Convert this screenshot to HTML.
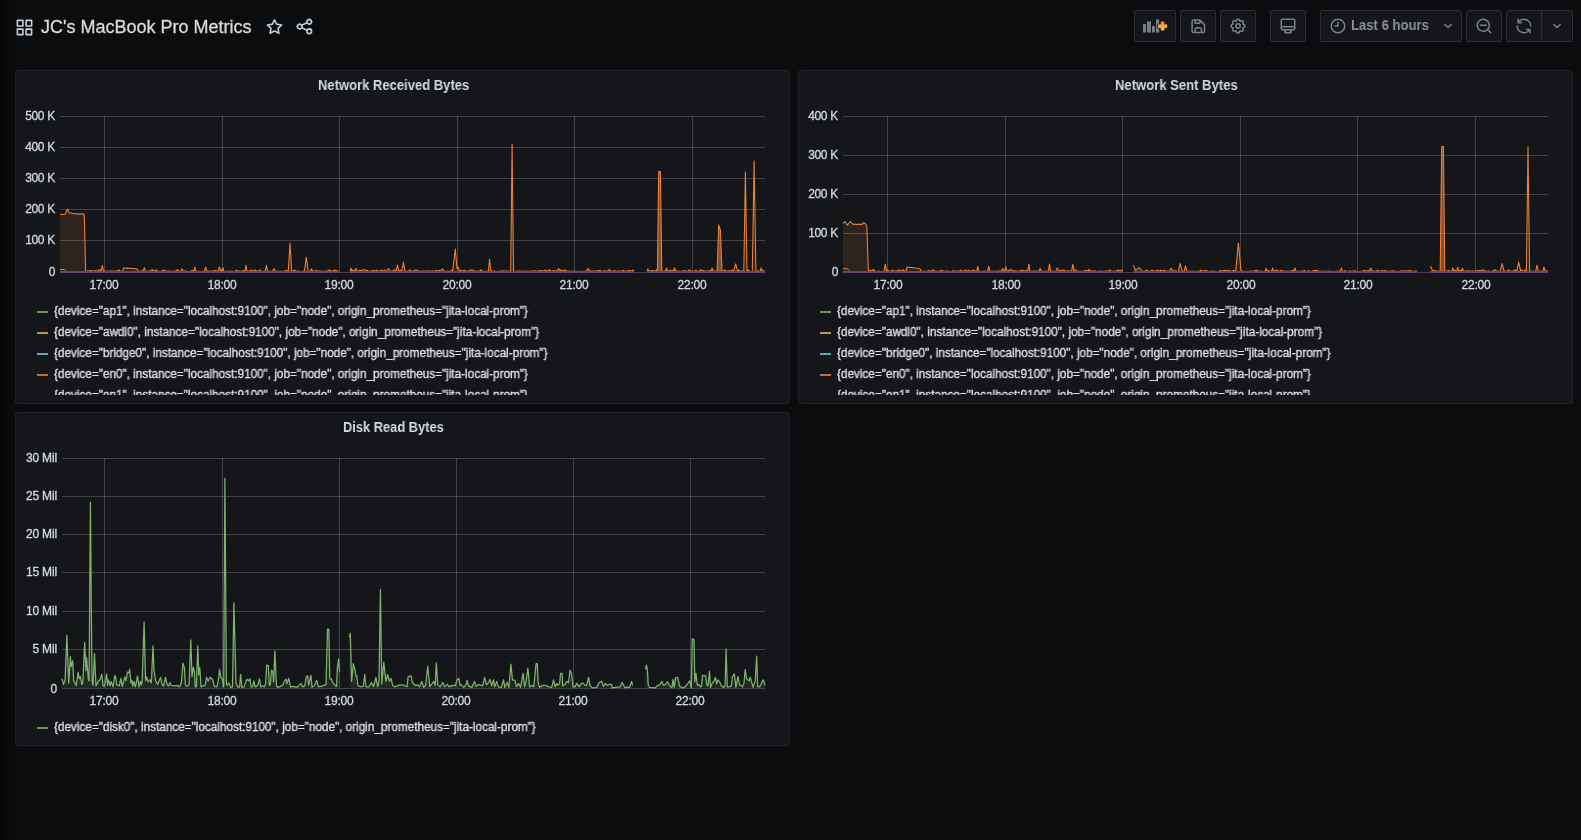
<!DOCTYPE html>
<html>
<head>
<meta charset="utf-8">
<title>JC's MacBook Pro Metrics - Grafana</title>
<style>
*{box-sizing:border-box;margin:0;padding:0}
html,body{width:1581px;height:840px;overflow:hidden;background:#0b0c0e;font-family:"Liberation Sans",sans-serif;color:#d8d9da}
body{position:relative}
.edge{position:absolute;left:0;top:0;width:18px;height:840px;background:linear-gradient(90deg,#050606 0,#090a0b 5px,#0b0c0e 14px)}
.abs{position:absolute}
.title,.ptitle,.yl,.xl,.lg span,.tbtxt{will-change:transform}
.title{-webkit-text-stroke:0.3px #d8d9da;left:41px;top:15px;height:24px;line-height:24px;font-size:18px;color:#d8d9da;white-space:nowrap}
.btn{position:absolute;top:10px;height:32px;background:#141619;border:1px solid #2c2e33;border-radius:2px}
.panel{position:absolute;width:775px;height:334px;background:#141619;border:1px solid #202226;border-radius:3px}
.ptitle{position:absolute;height:16px;line-height:16px;font-size:14px;font-weight:bold;color:#d5dae0;white-space:nowrap;transform-origin:0 50%}
.yl,.xl{-webkit-text-stroke:0.3px #d3d9e0;color:#d3d9e0 !important}
.lg span{-webkit-text-stroke:0.3px #e0e1e3;color:#e0e1e3}
.yl{position:absolute;font-size:12px;line-height:14px;height:14px;width:50px;color:#d8d9da;text-align:right;white-space:nowrap;letter-spacing:-0.3px}
.xl{position:absolute;font-size:12px;line-height:14px;height:14px;width:60px;margin-left:-30.5px;color:#d8d9da;text-align:center;white-space:nowrap;letter-spacing:-0.2px}
.legend{position:absolute;overflow:hidden}
.lg{position:absolute;left:0;font-size:12px;line-height:14px;height:14px;color:#d8d9da;white-space:nowrap}
.lg i{position:absolute;left:0;top:7px;width:11px;height:2px;opacity:0.8}
.lg span{position:absolute;left:17.4px;top:0;transform-origin:0 50%;transform:scaleX(0.9785)}
svg{position:absolute}
.tbtxt{position:absolute;left:1350.9px;top:16.4px;height:18px;line-height:18px;font-size:14px;font-weight:bold;color:#8e9298;white-space:nowrap;transform-origin:0 50%;transform:scaleX(0.935)}
</style>
</head>
<body>
<div class="edge"></div>

<!-- NAVBAR -->
<svg style="left:14.5px;top:17.5px" width="19" height="19" viewBox="0 0 24 24" fill="#c7d0d9"><path d="M10,13H3a1,1,0,0,0-1,1v7a1,1,0,0,0,1,1h7a1,1,0,0,0,1-1V14A1,1,0,0,0,10,13ZM9,20H4V15H9ZM21,2H14a1,1,0,0,0-1,1v7a1,1,0,0,0,1,1h7a1,1,0,0,0,1-1V3A1,1,0,0,0,21,2ZM20,9H15V4h5Zm1,4H14a1,1,0,0,0-1,1v7a1,1,0,0,0,1,1h7a1,1,0,0,0,1-1V14A1,1,0,0,0,21,13Zm-1,7H15V15h5ZM10,2H3A1,1,0,0,0,2,3v7a1,1,0,0,0,1,1h7a1,1,0,0,0,1-1V3A1,1,0,0,0,10,2ZM9,9H4V4H9Z"/></svg>
<div class="abs title">JC's MacBook Pro Metrics</div>
<svg style="left:264.5px;top:16.6px" width="19" height="19" viewBox="0 0 24 24" fill="#c7d0d9"><path d="M22,9.67A1,1,0,0,0,21.14,9l-5.69-.83L12.900,3a1,1,0,0,0-1.800,0L8.550,8.160,2.860,9a1,1,0,0,0-.81.680,1,1,0,0,0,.25,1l4.130,4-1,5.680A1,1,0,0,0,6.900,21.440L12,18.770l5.100,2.670a.93.930,0,0,0,.46.120,1,1,0,0,0,.59-.19,1,1,0,0,0,.4-1l-1-5.680,4.130-4A1,1,0,0,0,22,9.670Zm-6.150,4a1,1,0,0,0-.29.880l.72,4.200-3.760-2a1.060,1.060,0,0,0-.94,0l-3.760,2,.72-4.200a1,1,0,0,0-.29-.88l-3-3,4.210-.61a1,1,0,0,0,.76-.55L12,5.700l1.880,3.820a1,1,0,0,0,.76.550l4.210.610Z"/></svg>
<svg style="left:294.5px;top:16.5px" width="19" height="19" viewBox="0 0 24 24" fill="#c7d0d9"><path d="M18,14a4,4,0,0,0-3.080,1.480l-5.100-2.350a3.640,3.640,0,0,0,0-2.260l5.100-2.350A4,4,0,1,0,14,6a4.170,4.170,0,0,0,.07.710L8.790,9.140a4,4,0,1,0,0,5.720l5.280,2.430A4.170,4.170,0,0,0,14,18a4,4,0,1,0,4-4ZM18,4a2,2,0,1,1-2,2A2,2,0,0,1,18,4ZM6,14a2,2,0,1,1,2-2A2,2,0,0,1,6,14Zm12,6a2,2,0,1,1,2-2A2,2,0,0,1,18,20Z"/></svg>

<!-- toolbar buttons -->
<div class="btn" style="left:1134px;width:42px"></div>
<div class="btn" style="left:1180px;width:36px"></div>
<div class="btn" style="left:1220px;width:36px"></div>
<div class="btn" style="left:1270px;width:36px"></div>
<div class="btn" style="left:1320px;width:142px"></div>
<div class="btn" style="left:1466px;width:36px"></div>
<div class="btn" style="left:1506px;width:67px"></div>
<div class="abs" style="left:1541px;top:11px;width:1px;height:30px;background:#2c2e33"></div>

<!-- add panel icon -->
<svg style="left:1140px;top:16px" width="30" height="20" viewBox="0 0 30 20">
<defs><linearGradient id="pg" gradientUnits="userSpaceOnUse" x1="0" y1="5.6" x2="0" y2="14.5"><stop offset="0" stop-color="#f2843a"/><stop offset="1" stop-color="#fcc42c"/></linearGradient></defs>
<g fill="#7b8087"><rect x="3" y="8.1" width="3" height="8.4"/><rect x="7" y="5.4" width="3.9" height="11.1"/><rect x="12" y="10.1" width="2.9" height="6.4"/><rect x="16" y="3.4" width="3.2" height="13.1"/></g>
<g fill="#141619" stroke="#141619" stroke-width="1.8"><rect x="18" y="8.3" width="9.2" height="3.6" rx="0.9"/><rect x="20.8" y="5.6" width="3.6" height="8.9" rx="0.9"/></g>
<g fill="url(#pg)"><rect x="18" y="8.3" width="9.2" height="3.6" rx="0.9"/><rect x="20.8" y="5.6" width="3.6" height="8.9" rx="0.9"/></g>
</svg>
<!-- save -->
<svg style="left:1188.7px;top:16.6px" width="18.6" height="18.6" viewBox="0 0 24 24" fill="#7b8087"><path d="M20.710,9.290l-6-6a1,1,0,0,0-.32-.21A1.090,1.090,0,0,0,14,3H6A3,3,0,0,0,3,6V18a3,3,0,0,0,3,3H18a3,3,0,0,0,3-3V10A1,1,0,0,0,20.710,9.290ZM9,5h4V7H9Zm6,14H9V16a1,1,0,0,1,1-1h4a1,1,0,0,1,1,1Zm4-1a1,1,0,0,1-1,1H17V16a3,3,0,0,0-3-3H10a3,3,0,0,0-3,3v3H6a1,1,0,0,1-1-1V6A1,1,0,0,1,6,5H7V8A1,1,0,0,0,8,9h6a1,1,0,0,0,1-1V6.410l4,4Z"/></svg>
<!-- cog -->
<svg style="left:1229px;top:17.2px" width="18" height="18" viewBox="0 0 24 24" fill="#7b8087"><path d="M21.320,9.550l-1.890-.63.890-1.780A1,1,0,0,0,20.130,6L18,3.870a1,1,0,0,0-1.150-.19l-1.780.89-.63-1.890A1,1,0,0,0,13.500,2h-3a1,1,0,0,0-.95.680L8.920,4.570,7.140,3.680A1,1,0,0,0,6,3.870L3.870,6a1,1,0,0,0-.19,1.150l.89,1.780-1.890.63A1,1,0,0,0,2,10.500v3a1,1,0,0,0,.68.950l1.890.63-.89,1.780A1,1,0,0,0,3.870,18L6,20.130a1,1,0,0,0,1.150.19l1.780-.89.630,1.890a1,1,0,0,0,.95.680h3a1,1,0,0,0,.95-.68l.63-1.890,1.780.89A1,1,0,0,0,18,20.130L20.130,18a1,1,0,0,0,.19-1.150l-.89-1.780,1.890-.63A1,1,0,0,0,22,13.500v-3A1,1,0,0,0,21.320,9.550ZM20,12.780l-1.200.4A2,2,0,0,0,17.640,16l.57,1.140-1.100,1.100L16,17.640a2,2,0,0,0-2.790,1.160l-.4,1.200H11.220l-.4-1.200A2,2,0,0,0,8,17.640l-1.140.57-1.100-1.100L6.360,16A2,2,0,0,0,5.200,13.180L4,12.780V11.220l1.200-.4A2,2,0,0,0,6.360,8L5.790,6.890l1.100-1.100L8,6.360A2,2,0,0,0,10.820,5.200l.4-1.200h1.560l.4,1.200A2,2,0,0,0,16,6.360l1.140-.57,1.100,1.100L17.640,8a2,2,0,0,0,1.160,2.790l1.200.4ZM12,8a4,4,0,1,0,4,4A4,4,0,0,0,12,8Zm0,6a2,2,0,1,1,2-2A2,2,0,0,1,12,14Z"/></svg>
<!-- monitor -->
<svg style="left:1279px;top:17px" width="18" height="18" viewBox="0 0 24 24" fill="#7b8087"><path d="M19,2H5A3,3,0,0,0,2,5V15a3,3,0,0,0,3,3H7.640l-.58,1a2,2,0,0,0,0,2,2,2,0,0,0,1.750,1h6.460A2,2,0,0,0,17,21a2,2,0,0,0,0-2l-.59-1H19a3,3,0,0,0,3-3V5A3,3,0,0,0,19,2ZM8.770,20,10,18H14l1.200,2ZM20,15a1,1,0,0,1-1,1H5a1,1,0,0,1-1-1V14H20Zm0-3H4V5A1,1,0,0,1,5,4H19a1,1,0,0,1,1,1Z"/></svg>
<!-- clock -->
<svg style="left:1329px;top:17px" width="18" height="18" viewBox="0 0 24 24" fill="#7b8087"><path d="M12,2A10,10,0,1,0,22,12,10.011,10.011,0,0,0,12,2Zm0,18a8,8,0,1,1,8-8A8.009,8.009,0,0,1,12,20ZM12,6a1,1,0,0,0-1,1v4H8a1,1,0,0,0,0,2h4a1,1,0,0,0,1-1V7A1,1,0,0,0,12,6Z"/></svg>
<div class="tbtxt">Last 6 hours</div>
<svg style="left:1439px;top:17px" width="18" height="18" viewBox="0 0 24 24" fill="#7b8087"><path d="M17,9.170a1,1,0,0,0-1.410,0L12,12.710,8.460,9.170a1,1,0,0,0-1.410,0,1,1,0,0,0,0,1.420l4.240,4.240a1,1,0,0,0,1.420,0L17,10.590A1,1,0,0,0,17,9.170Z"/></svg>
<!-- zoom out -->
<svg style="left:1475px;top:17px" width="18" height="18" viewBox="0 0 24 24" fill="#7b8087"><path d="M21.710,20.290,18,16.610A9,9,0,1,0,16.610,18l3.680,3.680a1,1,0,0,0,1.420,0A1,1,0,0,0,21.710,20.290ZM11,18a7,7,0,1,1,7-7A7,7,0,0,1,11,18Zm4-8H7a1,1,0,0,0,0,2h8a1,1,0,0,0,0-2Z"/></svg>
<!-- sync -->
<svg style="left:1515px;top:17px" width="18" height="18" viewBox="0 0 24 24" fill="#7b8087"><path d="M19.910,15.510H15.380a1,1,0,0,0,0,2h2.400A8,8,0,0,1,4,12a1,1,0,0,0-2,0,10,10,0,0,0,16.880,7.230V21a1,1,0,0,0,2,0V16.500A1,1,0,0,0,19.910,15.510ZM12,2A10,10,0,0,0,5.120,4.770V3a1,1,0,0,0-2,0V7.500a1,1,0,0,0,1,1h4.500a1,1,0,0,0,0-2H6.220A8,8,0,0,1,20,12a1,1,0,0,0,2,0A10,10,0,0,0,12,2Z"/></svg>
<svg style="left:1548px;top:17px" width="18" height="18" viewBox="0 0 24 24" fill="#7b8087"><path d="M17,9.170a1,1,0,0,0-1.410,0L12,12.710,8.460,9.170a1,1,0,0,0-1.410,0,1,1,0,0,0,0,1.420l4.240,4.240a1,1,0,0,0,1.420,0L17,10.590A1,1,0,0,0,17,9.170Z"/></svg>

<!-- PANELS -->
<div class="panel" style="left:15px;top:70px"></div>
<div class="panel" style="left:798px;top:70px"></div>
<div class="panel" style="left:15px;top:412px"></div>

<div class="ptitle" style="left:317.7px;top:77px;transform:scaleX(0.93)">Network Received Bytes</div>
<div class="ptitle" style="left:1115.2px;top:77px;transform:scaleX(0.933)">Network Sent Bytes</div>
<div class="ptitle" style="left:343.3px;top:419px;transform:scaleX(0.918)">Disk Read Bytes</div>

<!-- chart svg overlay -->
<svg style="left:0;top:0" width="1581" height="840" viewBox="0 0 1581 840">
<g id="c1"><g stroke="#c8c8c8" stroke-opacity="0.25" stroke-width="1" shape-rendering="crispEdges"><line x1="60" y1="116.5" x2="765" y2="116.5"/><line x1="60" y1="147.5" x2="765" y2="147.5"/><line x1="60" y1="178.5" x2="765" y2="178.5"/><line x1="60" y1="209.5" x2="765" y2="209.5"/><line x1="60" y1="240.5" x2="765" y2="240.5"/><line x1="60" y1="272.5" x2="765" y2="272.5"/><line x1="104.5" y1="116" x2="104.5" y2="273"/><line x1="222.5" y1="116" x2="222.5" y2="273"/><line x1="339.5" y1="116" x2="339.5" y2="273"/><line x1="457.5" y1="116" x2="457.5" y2="273"/><line x1="574.5" y1="116" x2="574.5" y2="273"/><line x1="692.5" y1="116" x2="692.5" y2="273"/></g><path d="M60 269.5 L64.5 269.5 L66 270.8" fill="none" stroke="#EF843C" stroke-width="1"/><path d="M60 272 L60 214.3 L63 214.4 L65 214.2 L67.4 209.2 L69.3 212.9 L71 213 L72.5 213.6 L74 213.4 L75.5 213.9 L77 213.6 L78.5 214 L80 213.7 L81.5 214.2 L83 213.6 L83.8 214.2 L84.4 218 L85.6 271.3 L91.7 270.5 L92 271.2 L94 271.2 L95.7 270.5 L97.4 271.4 L98.8 270 L100.6 269.7 L101 271.4 L102.3 265.5 L103.6 271.4 L103.9 270.5 L105.1 271 L106.3 271.3 L108.2 271.2 L109.8 271.3 L111.2 271.1 L113.1 271.3 L114.4 271.3 L116.3 271.1 L117.8 271.1 L118.9 269.9 L120.5 271.3 L121.7 271.2 L122.6 271.3 L123.6 267.8 L126 268.3 L128 268 L131 268.5 L134 268.4 L137 269 L138.5 271.3 L138.6 271.4 L140.7 271 L142.5 270.9 L143 271.4 L144.3 267.8 L145.6 271.4 L146.6 271.3 L148.3 271.3 L149.6 271.2 L150.9 270.1 L153 269.8 L154.9 271.3 L156.2 269.8 L157.5 271.3 L159.4 271.3 L160.7 271.4 L162 271.1 L163.8 269.8 L165.1 270.9 L166.6 271.1 L168.1 271.4 L169.6 271.1 L171.3 271.2 L172.6 271.4 L174.6 271.1 L175.7 271.3 L177.5 269.7 L178.7 271.2 L180.7 271.2 L180.8 271.4 L182 268.8 L183.2 271.4 L184.4 271.1 L185.9 271.1 L187.5 271.3 L189.2 271.4 L191 271.1 L192.8 270.2 L193.7 271.4 L194.8 267.1 L195.9 271.4 L197.4 271.3 L199.1 271.2 L201.1 271.4 L202.6 271.3 L203.8 271.2 L204.4 271.4 L205.7 267 L207 271.4 L207.1 270.7 L209 271.1 L210.5 271.3 L211.8 271.1 L213.7 271.1 L215.1 270.6 L216.5 270.7 L218.1 271.4 L219.4 267 L220.7 271.4 L221.3 269.9 L221.7 271.4 L222.8 267.5 L223.9 271.4 L225.1 271.4 L227.1 271.2 L228.2 271.3 L229.9 271.2 L232 271.3 L233.6 271.4 L235.1 271.3 L236.5 270.2 L238.1 271.2 L239.6 271.1 L240.8 271.2 L242.1 271.2 L244.1 270.4 L244.9 271.4 L246 265.3 L247.1 271.4 L247.6 271.3 L249.4 271.2 L251.2 269.9 L253.3 271.2 L255.2 269.9 L257.1 271.3 L258.7 271.2 L260.2 270 L261.4 271.3 L262.9 271.4 L264.1 271.2 L265.1 271.4 L266.4 265.3 L267.7 271.4 L269 271.3 L270.8 271.2 L272.4 271.4 L274 268.8 L275.6 271.4 L277.2 271.3 L278.8 271.2 L279.9 271.2 L281.4 271.2 L283 271.4 L284.7 271.1 L286.7 270.6 L287.9 271.2 L288.3 271.4 L290 243.1 L291.7 271.4 L292.5 271.4 L293.8 270.2 L295.2 270.3 L296.4 271.4 L298 271.1 L299.7 271.3 L301.2 271.4 L302.5 271.2 L304.1 271.2 L304.4 271.4 L306.3 257.3 L308.2 271.4 L309.4 271.3 L310.4 271.4 L311.5 268.8 L312.6 271.4 L312.8 271.3 L314 271.3 L315.9 270.7 L317.7 271.1 L319.4 271.1 L320.7 271.2 L322.3 271.3 L323.5 271.3 L325.1 271.2 L326.4 271.1 L328.3 271.1 L329.5 269.8 L331.1 271.3 L332.6 271.3 L334.3 270.2 L336.3 270.6 L338.1 271.3 L339.4 271.4 L340 271.4 L340 272Z" fill="#EF843C" fill-opacity="0.125" stroke="none"/><path d="M60 214.3 L63 214.4 L65 214.2 L67.4 209.2 L69.3 212.9 L71 213 L72.5 213.6 L74 213.4 L75.5 213.9 L77 213.6 L78.5 214 L80 213.7 L81.5 214.2 L83 213.6 L83.8 214.2 L84.4 218 L85.6 271.3 L91.7 270.5 L92 271.2 L94 271.2 L95.7 270.5 L97.4 271.4 L98.8 270 L100.6 269.7 L101 271.4 L102.3 265.5 L103.6 271.4 L103.9 270.5 L105.1 271 L106.3 271.3 L108.2 271.2 L109.8 271.3 L111.2 271.1 L113.1 271.3 L114.4 271.3 L116.3 271.1 L117.8 271.1 L118.9 269.9 L120.5 271.3 L121.7 271.2 L122.6 271.3 L123.6 267.8 L126 268.3 L128 268 L131 268.5 L134 268.4 L137 269 L138.5 271.3 L138.6 271.4 L140.7 271 L142.5 270.9 L143 271.4 L144.3 267.8 L145.6 271.4 L146.6 271.3 L148.3 271.3 L149.6 271.2 L150.9 270.1 L153 269.8 L154.9 271.3 L156.2 269.8 L157.5 271.3 L159.4 271.3 L160.7 271.4 L162 271.1 L163.8 269.8 L165.1 270.9 L166.6 271.1 L168.1 271.4 L169.6 271.1 L171.3 271.2 L172.6 271.4 L174.6 271.1 L175.7 271.3 L177.5 269.7 L178.7 271.2 L180.7 271.2 L180.8 271.4 L182 268.8 L183.2 271.4 L184.4 271.1 L185.9 271.1 L187.5 271.3 L189.2 271.4 L191 271.1 L192.8 270.2 L193.7 271.4 L194.8 267.1 L195.9 271.4 L197.4 271.3 L199.1 271.2 L201.1 271.4 L202.6 271.3 L203.8 271.2 L204.4 271.4 L205.7 267 L207 271.4 L207.1 270.7 L209 271.1 L210.5 271.3 L211.8 271.1 L213.7 271.1 L215.1 270.6 L216.5 270.7 L218.1 271.4 L219.4 267 L220.7 271.4 L221.3 269.9 L221.7 271.4 L222.8 267.5 L223.9 271.4 L225.1 271.4 L227.1 271.2 L228.2 271.3 L229.9 271.2 L232 271.3 L233.6 271.4 L235.1 271.3 L236.5 270.2 L238.1 271.2 L239.6 271.1 L240.8 271.2 L242.1 271.2 L244.1 270.4 L244.9 271.4 L246 265.3 L247.1 271.4 L247.6 271.3 L249.4 271.2 L251.2 269.9 L253.3 271.2 L255.2 269.9 L257.1 271.3 L258.7 271.2 L260.2 270 L261.4 271.3 L262.9 271.4 L264.1 271.2 L265.1 271.4 L266.4 265.3 L267.7 271.4 L269 271.3 L270.8 271.2 L272.4 271.4 L274 268.8 L275.6 271.4 L277.2 271.3 L278.8 271.2 L279.9 271.2 L281.4 271.2 L283 271.4 L284.7 271.1 L286.7 270.6 L287.9 271.2 L288.3 271.4 L290 243.1 L291.7 271.4 L292.5 271.4 L293.8 270.2 L295.2 270.3 L296.4 271.4 L298 271.1 L299.7 271.3 L301.2 271.4 L302.5 271.2 L304.1 271.2 L304.4 271.4 L306.3 257.3 L308.2 271.4 L309.4 271.3 L310.4 271.4 L311.5 268.8 L312.6 271.4 L312.8 271.3 L314 271.3 L315.9 270.7 L317.7 271.1 L319.4 271.1 L320.7 271.2 L322.3 271.3 L323.5 271.3 L325.1 271.2 L326.4 271.1 L328.3 271.1 L329.5 269.8 L331.1 271.3 L332.6 271.3 L334.3 270.2 L336.3 270.6 L338.1 271.3 L339.4 271.4 L340 271.4" fill="none" stroke="#EF843C" stroke-width="1.05" stroke-linejoin="round"/><path d="M350 272 L350 271.2 L350.2 271.4 L351 268 L351.8 271.4 L353.2 270 L354.8 271.4 L356.1 268.4 L357.4 271.4 L358.1 271.4 L360 270.2 L361.4 271.1 L362.5 269.8 L364.1 269.7 L366.2 270.7 L367.4 270.3 L368.7 271.4 L370 271.3 L371.5 271.3 L373 270.2 L375 271.2 L376.5 270.2 L378.3 271 L379.7 271.2 L381.3 270 L382.9 271.3 L384.4 270.1 L385.6 271.3 L386.2 271.4 L388.4 268.5 L390.6 271.4 L392 271.3 L394 269.8 L395.5 270.1 L396 271.4 L397.4 265.1 L398.8 271.4 L399.4 271 L400.5 270.3 L401.8 271.4 L403.4 262.3 L405 271.4 L405.6 271.3 L407.2 271.2 L408.6 271.1 L409.9 269.9 L411.3 271.2 L413.1 271.3 L414.5 270.2 L416.3 269.9 L417.8 270.7 L419.8 271.2 L421.8 271.2 L423.4 271.1 L425.2 271.3 L426.7 271.2 L427.8 271.1 L429.7 271.1 L431.4 271.3 L432.6 270.9 L434.6 271.2 L436.3 270.5 L438.1 271 L439.6 270.2 L440.3 271.4 L442.5 268.8 L444.7 271.4 L446.3 271.3 L448 271 L449.5 271.4 L450.9 271.1 L452.5 269.8 L452.6 271.3 L455.3 249 L457 268.5 L458.1 267 L459.2 271.3 L460.8 270.3 L462.5 271.2 L464.3 270.2 L465.7 271.3 L467.1 271 L468.8 271.3 L470.7 269.8 L472.4 269.9 L474.3 271.2 L476.1 271.2 L478 271.2 L479.3 271.3 L480.8 270 L482.1 271 L484.1 271.4 L486.1 271.2 L487.5 271.3 L488.4 271.4 L489.6 259.3 L490.8 271.4 L491.5 271.1 L492.8 271.3 L494.1 270.9 L496.1 271.4 L497.8 271.3 L499.5 271.2 L501.1 271.3 L502.8 270.7 L504.4 271.3 L506.4 271.1 L508.2 271.2 L509.7 271.2 L510.7 271.4 L512.1 143.9 L513.5 271.4 L513.9 271 L515.2 271.2 L517.2 271.2 L519.2 271 L521.2 271.3 L523.1 271.2 L524.5 271.3 L526.2 271.1 L528.1 271.3 L529.5 271.2 L531.2 271 L532.8 271.2 L534.7 270.8 L536.6 271.3 L537.9 271.2 L539.4 270.7 L541.1 270.5 L543.1 271.3 L544.7 270.1 L546.4 270.5 L548.1 271.3 L549.5 269.7 L550.9 271.3 L552.2 271.1 L553.6 270.8 L555.7 270.8 L556.9 271.4 L558.6 268.4 L560.3 271.4 L560.4 270 L562.4 271.3 L564 270 L565.3 270.3 L567.1 271.3 L569.1 271.1 L570.6 271.3 L572.4 271.3 L574 271.2 L575.8 271.2 L577.2 271.4 L579.2 271.3 L581.3 271.4 L583.2 271.3 L584.6 271.4 L585.7 270.9 L586.3 271.4 L588 268.4 L589.7 271.4 L590.5 271 L592.4 271.1 L594.1 271.1 L596.1 271.2 L597.9 270.5 L599.9 270.4 L601.2 271.1 L603 271.4 L604.6 270.7 L605.8 271.2 L607.4 271.1 L607.9 271.4 L609.5 269.3 L611.1 271.4 L612.4 271.2 L614.5 270.7 L616.4 271.2 L618.3 271.1 L620 270.9 L621.2 271.3 L623.3 270.4 L624.5 271.2 L625.8 271.1 L627.9 270.7 L629.6 270.4 L631.4 271.2 L633.2 270.1 L634 271.4 L634 272Z" fill="#EF843C" fill-opacity="0.125" stroke="none"/><path d="M350 271.2 L350.2 271.4 L351 268 L351.8 271.4 L353.2 270 L354.8 271.4 L356.1 268.4 L357.4 271.4 L358.1 271.4 L360 270.2 L361.4 271.1 L362.5 269.8 L364.1 269.7 L366.2 270.7 L367.4 270.3 L368.7 271.4 L370 271.3 L371.5 271.3 L373 270.2 L375 271.2 L376.5 270.2 L378.3 271 L379.7 271.2 L381.3 270 L382.9 271.3 L384.4 270.1 L385.6 271.3 L386.2 271.4 L388.4 268.5 L390.6 271.4 L392 271.3 L394 269.8 L395.5 270.1 L396 271.4 L397.4 265.1 L398.8 271.4 L399.4 271 L400.5 270.3 L401.8 271.4 L403.4 262.3 L405 271.4 L405.6 271.3 L407.2 271.2 L408.6 271.1 L409.9 269.9 L411.3 271.2 L413.1 271.3 L414.5 270.2 L416.3 269.9 L417.8 270.7 L419.8 271.2 L421.8 271.2 L423.4 271.1 L425.2 271.3 L426.7 271.2 L427.8 271.1 L429.7 271.1 L431.4 271.3 L432.6 270.9 L434.6 271.2 L436.3 270.5 L438.1 271 L439.6 270.2 L440.3 271.4 L442.5 268.8 L444.7 271.4 L446.3 271.3 L448 271 L449.5 271.4 L450.9 271.1 L452.5 269.8 L452.6 271.3 L455.3 249 L457 268.5 L458.1 267 L459.2 271.3 L460.8 270.3 L462.5 271.2 L464.3 270.2 L465.7 271.3 L467.1 271 L468.8 271.3 L470.7 269.8 L472.4 269.9 L474.3 271.2 L476.1 271.2 L478 271.2 L479.3 271.3 L480.8 270 L482.1 271 L484.1 271.4 L486.1 271.2 L487.5 271.3 L488.4 271.4 L489.6 259.3 L490.8 271.4 L491.5 271.1 L492.8 271.3 L494.1 270.9 L496.1 271.4 L497.8 271.3 L499.5 271.2 L501.1 271.3 L502.8 270.7 L504.4 271.3 L506.4 271.1 L508.2 271.2 L509.7 271.2 L510.7 271.4 L512.1 143.9 L513.5 271.4 L513.9 271 L515.2 271.2 L517.2 271.2 L519.2 271 L521.2 271.3 L523.1 271.2 L524.5 271.3 L526.2 271.1 L528.1 271.3 L529.5 271.2 L531.2 271 L532.8 271.2 L534.7 270.8 L536.6 271.3 L537.9 271.2 L539.4 270.7 L541.1 270.5 L543.1 271.3 L544.7 270.1 L546.4 270.5 L548.1 271.3 L549.5 269.7 L550.9 271.3 L552.2 271.1 L553.6 270.8 L555.7 270.8 L556.9 271.4 L558.6 268.4 L560.3 271.4 L560.4 270 L562.4 271.3 L564 270 L565.3 270.3 L567.1 271.3 L569.1 271.1 L570.6 271.3 L572.4 271.3 L574 271.2 L575.8 271.2 L577.2 271.4 L579.2 271.3 L581.3 271.4 L583.2 271.3 L584.6 271.4 L585.7 270.9 L586.3 271.4 L588 268.4 L589.7 271.4 L590.5 271 L592.4 271.1 L594.1 271.1 L596.1 271.2 L597.9 270.5 L599.9 270.4 L601.2 271.1 L603 271.4 L604.6 270.7 L605.8 271.2 L607.4 271.1 L607.9 271.4 L609.5 269.3 L611.1 271.4 L612.4 271.2 L614.5 270.7 L616.4 271.2 L618.3 271.1 L620 270.9 L621.2 271.3 L623.3 270.4 L624.5 271.2 L625.8 271.1 L627.9 270.7 L629.6 270.4 L631.4 271.2 L633.2 270.1 L634 271.4" fill="none" stroke="#EF843C" stroke-width="1.05" stroke-linejoin="round"/><path d="M647 272 L647 271.4 L647.9 268.9 L648.8 271.4 L650.1 271 L651.9 270.5 L653.3 270.7 L655.2 271.4 L656.6 269.9 L657.4 271.3 L658.7 171.6 L660.4 171.4 L661.8 271.3 L663.5 271.3 L665 270.9 L665.5 271.4 L666.6 268 L667.7 271.4 L668.3 271.2 L670.1 270.2 L671.7 271.1 L673.3 270.6 L673.5 271.4 L674.6 268 L675.7 271.4 L676.6 271 L677.9 271.3 L679.6 271.3 L681.4 271.4 L682.7 271.1 L684.4 270.7 L686.4 271.2 L687.7 271.3 L689.5 269.7 L691.2 271.3 L692.9 271.2 L694.4 271.3 L695.8 270.2 L697 271.3 L698.8 271.2 L699.9 270.8 L701.1 269.7 L702.4 270.9 L704.1 270.6 L705.5 271.4 L707 271.1 L708.6 271.2 L710 270.5 L711 271.4 L712.1 268 L713.2 271.4 L713.8 271.3 L715.4 271 L716.8 270.8 L717.1 271.3 L718.7 225 L720.4 230 L722 271.3 L723.4 270.9 L724.9 269.9 L726.1 271.3 L727.5 271.3 L728.8 270.6 L730.7 271.4 L732.4 270 L733.7 271.4 L735.7 263.9 L737.7 271.4 L738.5 270 L739.8 271.2 L741.8 271.1 L743.4 271.2 L743.8 271.4 L745.4 172.1 L747 271.4 L748.2 269.8 L749.6 271.3 L750.7 271.4 L752.3 271.4 L754.1 160.9 L755.9 271.4 L756.4 271.3 L758.2 270.9 L760.1 271.4 L761.2 268 L762.3 271.4 L763.3 270.8 L765 271.4 L765 272Z" fill="#EF843C" fill-opacity="0.125" stroke="none"/><path d="M647 271.4 L647.9 268.9 L648.8 271.4 L650.1 271 L651.9 270.5 L653.3 270.7 L655.2 271.4 L656.6 269.9 L657.4 271.3 L658.7 171.6 L660.4 171.4 L661.8 271.3 L663.5 271.3 L665 270.9 L665.5 271.4 L666.6 268 L667.7 271.4 L668.3 271.2 L670.1 270.2 L671.7 271.1 L673.3 270.6 L673.5 271.4 L674.6 268 L675.7 271.4 L676.6 271 L677.9 271.3 L679.6 271.3 L681.4 271.4 L682.7 271.1 L684.4 270.7 L686.4 271.2 L687.7 271.3 L689.5 269.7 L691.2 271.3 L692.9 271.2 L694.4 271.3 L695.8 270.2 L697 271.3 L698.8 271.2 L699.9 270.8 L701.1 269.7 L702.4 270.9 L704.1 270.6 L705.5 271.4 L707 271.1 L708.6 271.2 L710 270.5 L711 271.4 L712.1 268 L713.2 271.4 L713.8 271.3 L715.4 271 L716.8 270.8 L717.1 271.3 L718.7 225 L720.4 230 L722 271.3 L723.4 270.9 L724.9 269.9 L726.1 271.3 L727.5 271.3 L728.8 270.6 L730.7 271.4 L732.4 270 L733.7 271.4 L735.7 263.9 L737.7 271.4 L738.5 270 L739.8 271.2 L741.8 271.1 L743.4 271.2 L743.8 271.4 L745.4 172.1 L747 271.4 L748.2 269.8 L749.6 271.3 L750.7 271.4 L752.3 271.4 L754.1 160.9 L755.9 271.4 L756.4 271.3 L758.2 270.9 L760.1 271.4 L761.2 268 L762.3 271.4 L763.3 270.8 L765 271.4" fill="none" stroke="#EF843C" stroke-width="1.05" stroke-linejoin="round"/><path d="M657.4 271 L658.7 171.6 L660.4 171.4 L661.8 271Z M717.1 271 L718.7 225 L720.4 230 L722 271Z" fill="#EF843C" fill-opacity="0.45"/><rect x="60" y="271" width="280" height="2" fill="#67407f"/><rect x="350" y="271" width="284" height="2" fill="#67407f"/><rect x="647" y="271" width="118" height="2" fill="#67407f"/></g>
<g id="c2"><g stroke="#c8c8c8" stroke-opacity="0.25" stroke-width="1" shape-rendering="crispEdges"><line x1="843" y1="116.5" x2="1548" y2="116.5"/><line x1="843" y1="155.5" x2="1548" y2="155.5"/><line x1="843" y1="194.5" x2="1548" y2="194.5"/><line x1="843" y1="233.5" x2="1548" y2="233.5"/><line x1="843" y1="272.5" x2="1548" y2="272.5"/><line x1="887.5" y1="116" x2="887.5" y2="273"/><line x1="1005.5" y1="116" x2="1005.5" y2="273"/><line x1="1122.5" y1="116" x2="1122.5" y2="273"/><line x1="1240.5" y1="116" x2="1240.5" y2="273"/><line x1="1357.5" y1="116" x2="1357.5" y2="273"/><line x1="1475.5" y1="116" x2="1475.5" y2="273"/></g><path d="M843 268.6 L847 268.8 L848.5 269.6 L849.5 270.8" fill="none" stroke="#EF843C" stroke-width="1"/><path d="M843 272 L843 223.5 L844.8 221.5 L847.3 225.2 L850.4 221.5 L852 223.4 L853.5 224.5 L855 224 L856.5 224.7 L858 224.1 L859.5 224.6 L861 224 L862.3 224.4 L863.7 222.6 L865.6 223.8 L866.8 227 L868.4 271.3 L870 270.5 L870.5 270.2 L871.8 271.4 L873.4 269.3 L875 271.4 L875.7 271.4 L877.2 271.4 L879.1 271 L880.2 271.2 L882.2 271.4 L883.6 271.4 L884 271.4 L885.3 264.1 L886.6 271.4 L887.6 269.8 L889.1 271.3 L890.7 271.3 L892.7 270.1 L894 271.1 L895.8 271.2 L897.6 270.6 L899.6 269.8 L901.5 271.3 L903.1 269.7 L904.6 271.2 L906 271.3 L907.1 267 L909.5 267.6 L912 267.4 L915 268 L918 268.3 L920 269 L921.2 271.3 L922.9 271.3 L924.2 271.4 L925.4 271.2 L927 271.4 L928.4 270.7 L929.6 270.8 L931.6 271.2 L933.2 269.8 L934.8 271.4 L936.1 271.2 L938.1 271.3 L939.8 271.3 L941.4 270.1 L942.6 271.1 L943.7 271.2 L945.6 271.3 L947.1 271.1 L948.4 271.2 L949.5 271.4 L951.5 271.4 L953.1 270.6 L954.5 271.1 L955.9 271.2 L957.1 271.1 L959 271.4 L960.5 270.1 L961.8 271.3 L963.6 271.3 L965.1 269.9 L966.5 271.2 L968.5 270.4 L970.1 271.1 L971.6 271.2 L973.2 270 L975.3 270.9 L976.7 271.4 L977.8 266.2 L978.9 271.4 L980.1 271.4 L981.8 271.2 L983.3 271.3 L984.5 271.3 L986.3 271.2 L987.7 271.4 L988.8 266.2 L989.9 271.4 L990.6 271.3 L992.4 271.2 L994.2 271.2 L996.1 271.2 L997.5 271.3 L999.2 271.1 L1001.2 270.9 L1001.5 271.4 L1002.8 268.5 L1004.1 271.4 L1004.3 270.9 L1004.7 271.4 L1005.8 266.7 L1006.9 271.4 L1007.6 271.2 L1008.9 270.3 L1010.7 269.8 L1012.1 270 L1013.4 271.3 L1015 270.8 L1017.1 271.3 L1018.8 271.1 L1020.3 271.1 L1022.3 270 L1024.3 271.4 L1025.9 270.4 L1027.7 271.4 L1027.8 271.4 L1028.9 264.1 L1030 271.4 L1030.9 271.3 L1032.2 271.2 L1033.8 271.1 L1035.3 271.3 L1037.2 271.1 L1038.9 271.4 L1040.2 268.5 L1041.5 271.4 L1042.2 271.3 L1044.1 271.2 L1045.7 271.3 L1047.1 270.9 L1048.4 271.4 L1049.5 264.1 L1050.6 271.4 L1051.3 271.3 L1052.4 271.2 L1054.2 271.2 L1055.7 271.4 L1057.3 268 L1058.9 271.4 L1059.2 271.3 L1060.3 270.5 L1062.1 270.2 L1063.6 270 L1065.5 271.2 L1066.9 271.1 L1068.5 271.1 L1070 271.1 L1071.5 271.4 L1072.8 264.3 L1074.1 271.4 L1075.3 269.8 L1077 271.3 L1079 271.2 L1080.9 271.3 L1082.1 271.3 L1083.7 271.3 L1085 270.7 L1086.6 270.3 L1087.8 271.4 L1089.1 269.2 L1090.4 271.4 L1090.8 270.7 L1092.6 271.2 L1094.3 270.7 L1095.8 271.3 L1097.4 271.4 L1099.3 271.2 L1101.2 271.1 L1102.6 271.4 L1104.4 271.2 L1106.5 271 L1108.3 271.3 L1109.5 270 L1111.1 271.3 L1112.8 271.2 L1114.7 271.3 L1116.1 271.2 L1118.1 270 L1120.1 270.9 L1121.8 270 L1122.8 271.4 L1122.8 272Z" fill="#EF843C" fill-opacity="0.125" stroke="none"/><path d="M843 223.5 L844.8 221.5 L847.3 225.2 L850.4 221.5 L852 223.4 L853.5 224.5 L855 224 L856.5 224.7 L858 224.1 L859.5 224.6 L861 224 L862.3 224.4 L863.7 222.6 L865.6 223.8 L866.8 227 L868.4 271.3 L870 270.5 L870.5 270.2 L871.8 271.4 L873.4 269.3 L875 271.4 L875.7 271.4 L877.2 271.4 L879.1 271 L880.2 271.2 L882.2 271.4 L883.6 271.4 L884 271.4 L885.3 264.1 L886.6 271.4 L887.6 269.8 L889.1 271.3 L890.7 271.3 L892.7 270.1 L894 271.1 L895.8 271.2 L897.6 270.6 L899.6 269.8 L901.5 271.3 L903.1 269.7 L904.6 271.2 L906 271.3 L907.1 267 L909.5 267.6 L912 267.4 L915 268 L918 268.3 L920 269 L921.2 271.3 L922.9 271.3 L924.2 271.4 L925.4 271.2 L927 271.4 L928.4 270.7 L929.6 270.8 L931.6 271.2 L933.2 269.8 L934.8 271.4 L936.1 271.2 L938.1 271.3 L939.8 271.3 L941.4 270.1 L942.6 271.1 L943.7 271.2 L945.6 271.3 L947.1 271.1 L948.4 271.2 L949.5 271.4 L951.5 271.4 L953.1 270.6 L954.5 271.1 L955.9 271.2 L957.1 271.1 L959 271.4 L960.5 270.1 L961.8 271.3 L963.6 271.3 L965.1 269.9 L966.5 271.2 L968.5 270.4 L970.1 271.1 L971.6 271.2 L973.2 270 L975.3 270.9 L976.7 271.4 L977.8 266.2 L978.9 271.4 L980.1 271.4 L981.8 271.2 L983.3 271.3 L984.5 271.3 L986.3 271.2 L987.7 271.4 L988.8 266.2 L989.9 271.4 L990.6 271.3 L992.4 271.2 L994.2 271.2 L996.1 271.2 L997.5 271.3 L999.2 271.1 L1001.2 270.9 L1001.5 271.4 L1002.8 268.5 L1004.1 271.4 L1004.3 270.9 L1004.7 271.4 L1005.8 266.7 L1006.9 271.4 L1007.6 271.2 L1008.9 270.3 L1010.7 269.8 L1012.1 270 L1013.4 271.3 L1015 270.8 L1017.1 271.3 L1018.8 271.1 L1020.3 271.1 L1022.3 270 L1024.3 271.4 L1025.9 270.4 L1027.7 271.4 L1027.8 271.4 L1028.9 264.1 L1030 271.4 L1030.9 271.3 L1032.2 271.2 L1033.8 271.1 L1035.3 271.3 L1037.2 271.1 L1038.9 271.4 L1040.2 268.5 L1041.5 271.4 L1042.2 271.3 L1044.1 271.2 L1045.7 271.3 L1047.1 270.9 L1048.4 271.4 L1049.5 264.1 L1050.6 271.4 L1051.3 271.3 L1052.4 271.2 L1054.2 271.2 L1055.7 271.4 L1057.3 268 L1058.9 271.4 L1059.2 271.3 L1060.3 270.5 L1062.1 270.2 L1063.6 270 L1065.5 271.2 L1066.9 271.1 L1068.5 271.1 L1070 271.1 L1071.5 271.4 L1072.8 264.3 L1074.1 271.4 L1075.3 269.8 L1077 271.3 L1079 271.2 L1080.9 271.3 L1082.1 271.3 L1083.7 271.3 L1085 270.7 L1086.6 270.3 L1087.8 271.4 L1089.1 269.2 L1090.4 271.4 L1090.8 270.7 L1092.6 271.2 L1094.3 270.7 L1095.8 271.3 L1097.4 271.4 L1099.3 271.2 L1101.2 271.1 L1102.6 271.4 L1104.4 271.2 L1106.5 271 L1108.3 271.3 L1109.5 270 L1111.1 271.3 L1112.8 271.2 L1114.7 271.3 L1116.1 271.2 L1118.1 270 L1120.1 270.9 L1121.8 270 L1122.8 271.4" fill="none" stroke="#EF843C" stroke-width="1.05" stroke-linejoin="round"/><path d="M1133.3 272 L1133.3 265.1 L1135.5 270.2 L1137 269.6 L1139 267.7 L1141.5 270.4 L1142 271.4 L1143.1 271.3 L1144.4 271.3 L1146.4 270.2 L1147.8 271.1 L1149.6 271.2 L1150.7 271.2 L1152.1 270.3 L1153.8 271.2 L1155.9 271.2 L1157.6 270.2 L1159 271.1 L1160.7 270.3 L1162.5 271.3 L1164.1 270.2 L1165.7 271.3 L1167.5 271.3 L1169 271.3 L1169 271.4 L1171.2 268.3 L1173.4 271.4 L1174.5 270.8 L1176 271.1 L1177.6 271.4 L1178.3 271.4 L1180.2 263.4 L1182.1 271.4 L1182.4 270.7 L1184.1 271.4 L1185.5 266 L1186.9 271.4 L1187.9 271.3 L1189.9 271.2 L1191.6 271.2 L1193.1 271.2 L1194.6 271.2 L1196.3 271.4 L1197.9 271.3 L1199.2 271.3 L1200.6 270.1 L1202 271.1 L1203.4 271.3 L1204.8 270.8 L1206.1 270.4 L1208.1 271.4 L1209.6 271.4 L1210.9 271.3 L1212.7 271.3 L1214.1 271.1 L1215.3 271.4 L1217.2 271.4 L1218.8 271.4 L1220.4 270.4 L1221.6 271.1 L1223.5 270.7 L1224.7 270.3 L1226.6 270.9 L1228.4 270.4 L1230.4 271.3 L1232.3 271.3 L1233.7 270.3 L1235.3 271.2 L1235.7 271.4 L1238.4 243 L1241.1 271.4 L1242.2 271.1 L1243.8 271.4 L1245.5 271.2 L1247.1 271.4 L1249.2 271.2 L1251.1 271.3 L1252.4 271.1 L1254.3 271.2 L1256.2 270.1 L1258.2 271.1 L1260.1 271.3 L1261.5 271.3 L1263.5 271.4 L1264.9 271.4 L1266 268.5 L1267.1 271.4 L1267.9 270.3 L1269.3 271.1 L1271.3 271.3 L1271.5 271.4 L1272.6 268 L1273.7 271.4 L1274.6 271 L1275.9 270.1 L1277.8 270.8 L1279.7 271.4 L1281.1 270.2 L1282.8 271.2 L1283.9 271.2 L1285.7 271 L1286.8 271.2 L1288.4 271.3 L1290 271.2 L1291.1 271.2 L1292.5 270.5 L1293.6 271.4 L1294.9 268 L1296.2 271.4 L1298.2 271.2 L1299.6 271.2 L1300.9 271.2 L1302.6 271.3 L1304.2 270.4 L1305.7 271.2 L1307 271.4 L1308.9 270.6 L1310.3 271.4 L1312.1 271.3 L1313.3 270.6 L1314.7 270.8 L1316.6 270.2 L1318.2 271.3 L1319.6 271.3 L1320.8 271.3 L1322.4 271.2 L1324.1 271.2 L1326 271.2 L1327.2 271.2 L1329.2 271.3 L1330.7 271.3 L1332.6 271.4 L1334.1 271.4 L1336.1 271.2 L1338.1 271.2 L1339.3 271.1 L1340.1 271.4 L1341.4 268 L1342.7 271.4 L1344 271.2 L1345.3 270.6 L1346.4 271.3 L1348.4 271.4 L1349.5 271.1 L1351.3 271.2 L1352.8 271.2 L1354.2 270.8 L1355.6 270.9 L1356.8 271.3 L1358.7 271.4 L1360.7 271.2 L1362.7 271.4 L1364 270.3 L1365.9 270.9 L1367.1 270.9 L1368.6 270.5 L1369.2 271.4 L1370.8 268 L1372.4 271.4 L1372.9 271 L1374.2 271.3 L1376 271.3 L1377.4 270.2 L1378.7 271.2 L1380.1 271.1 L1381.4 270.8 L1383.1 270.9 L1385 270.5 L1386.8 271.3 L1388.3 271.4 L1389.9 271 L1391.1 271.3 L1392.7 270.7 L1394.3 271.2 L1396 271.2 L1397.6 271.4 L1399.1 271.3 L1400.3 271.1 L1401.5 270.8 L1403.4 271.1 L1405.3 271 L1407 271.1 L1408.4 270.9 L1409.7 270.4 L1411.7 271.3 L1413.6 271.2 L1415.1 271.2 L1416.9 271.1 L1417 271.4 L1417 272Z" fill="#EF843C" fill-opacity="0.125" stroke="none"/><path d="M1133.3 265.1 L1135.5 270.2 L1137 269.6 L1139 267.7 L1141.5 270.4 L1142 271.4 L1143.1 271.3 L1144.4 271.3 L1146.4 270.2 L1147.8 271.1 L1149.6 271.2 L1150.7 271.2 L1152.1 270.3 L1153.8 271.2 L1155.9 271.2 L1157.6 270.2 L1159 271.1 L1160.7 270.3 L1162.5 271.3 L1164.1 270.2 L1165.7 271.3 L1167.5 271.3 L1169 271.3 L1169 271.4 L1171.2 268.3 L1173.4 271.4 L1174.5 270.8 L1176 271.1 L1177.6 271.4 L1178.3 271.4 L1180.2 263.4 L1182.1 271.4 L1182.4 270.7 L1184.1 271.4 L1185.5 266 L1186.9 271.4 L1187.9 271.3 L1189.9 271.2 L1191.6 271.2 L1193.1 271.2 L1194.6 271.2 L1196.3 271.4 L1197.9 271.3 L1199.2 271.3 L1200.6 270.1 L1202 271.1 L1203.4 271.3 L1204.8 270.8 L1206.1 270.4 L1208.1 271.4 L1209.6 271.4 L1210.9 271.3 L1212.7 271.3 L1214.1 271.1 L1215.3 271.4 L1217.2 271.4 L1218.8 271.4 L1220.4 270.4 L1221.6 271.1 L1223.5 270.7 L1224.7 270.3 L1226.6 270.9 L1228.4 270.4 L1230.4 271.3 L1232.3 271.3 L1233.7 270.3 L1235.3 271.2 L1235.7 271.4 L1238.4 243 L1241.1 271.4 L1242.2 271.1 L1243.8 271.4 L1245.5 271.2 L1247.1 271.4 L1249.2 271.2 L1251.1 271.3 L1252.4 271.1 L1254.3 271.2 L1256.2 270.1 L1258.2 271.1 L1260.1 271.3 L1261.5 271.3 L1263.5 271.4 L1264.9 271.4 L1266 268.5 L1267.1 271.4 L1267.9 270.3 L1269.3 271.1 L1271.3 271.3 L1271.5 271.4 L1272.6 268 L1273.7 271.4 L1274.6 271 L1275.9 270.1 L1277.8 270.8 L1279.7 271.4 L1281.1 270.2 L1282.8 271.2 L1283.9 271.2 L1285.7 271 L1286.8 271.2 L1288.4 271.3 L1290 271.2 L1291.1 271.2 L1292.5 270.5 L1293.6 271.4 L1294.9 268 L1296.2 271.4 L1298.2 271.2 L1299.6 271.2 L1300.9 271.2 L1302.6 271.3 L1304.2 270.4 L1305.7 271.2 L1307 271.4 L1308.9 270.6 L1310.3 271.4 L1312.1 271.3 L1313.3 270.6 L1314.7 270.8 L1316.6 270.2 L1318.2 271.3 L1319.6 271.3 L1320.8 271.3 L1322.4 271.2 L1324.1 271.2 L1326 271.2 L1327.2 271.2 L1329.2 271.3 L1330.7 271.3 L1332.6 271.4 L1334.1 271.4 L1336.1 271.2 L1338.1 271.2 L1339.3 271.1 L1340.1 271.4 L1341.4 268 L1342.7 271.4 L1344 271.2 L1345.3 270.6 L1346.4 271.3 L1348.4 271.4 L1349.5 271.1 L1351.3 271.2 L1352.8 271.2 L1354.2 270.8 L1355.6 270.9 L1356.8 271.3 L1358.7 271.4 L1360.7 271.2 L1362.7 271.4 L1364 270.3 L1365.9 270.9 L1367.1 270.9 L1368.6 270.5 L1369.2 271.4 L1370.8 268 L1372.4 271.4 L1372.9 271 L1374.2 271.3 L1376 271.3 L1377.4 270.2 L1378.7 271.2 L1380.1 271.1 L1381.4 270.8 L1383.1 270.9 L1385 270.5 L1386.8 271.3 L1388.3 271.4 L1389.9 271 L1391.1 271.3 L1392.7 270.7 L1394.3 271.2 L1396 271.2 L1397.6 271.4 L1399.1 271.3 L1400.3 271.1 L1401.5 270.8 L1403.4 271.1 L1405.3 271 L1407 271.1 L1408.4 270.9 L1409.7 270.4 L1411.7 271.3 L1413.6 271.2 L1415.1 271.2 L1416.9 271.1 L1417 271.4" fill="none" stroke="#EF843C" stroke-width="1.05" stroke-linejoin="round"/><path d="M1430.4 272 L1430.4 266 L1432.5 270.4 L1433 271.1 L1435 270.4 L1436.5 271.4 L1437.8 271 L1439.4 271.3 L1440.2 271.3 L1441.7 146.6 L1443.4 146.4 L1444.8 271.3 L1444.9 271.2 L1446.6 271.3 L1448.4 270.4 L1450.2 271.3 L1451.6 271.4 L1452.7 268 L1453.8 271.4 L1454.6 270 L1455.9 271.2 L1456.6 271.4 L1457.7 267.2 L1458.8 271.4 L1459 270.8 L1460.4 270.1 L1461.4 271.4 L1462.5 268.2 L1463.6 271.4 L1463.9 271.2 L1465.2 271.1 L1466.9 271.3 L1469 270.7 L1470.1 271.2 L1472.2 271.1 L1473.8 271.2 L1475.3 271.3 L1476.6 270.6 L1477.9 271.1 L1479.2 270.5 L1480.5 271.2 L1481.9 269.9 L1483.4 269.9 L1485.3 271.2 L1486.8 271.2 L1488.6 270.9 L1490.1 271.2 L1491.7 271.4 L1493.4 270.4 L1495.4 269.8 L1496.6 271.2 L1497.9 271.3 L1499.5 271.4 L1500.1 271.4 L1502.1 263.6 L1504.1 271.4 L1504.2 270.7 L1505.4 271.3 L1507.2 271.2 L1508.8 269.9 L1510 271.1 L1511.6 271.2 L1513.3 270.9 L1514.7 269.8 L1516.2 270.7 L1516.7 271.4 L1518.7 262.1 L1520.7 271.4 L1520.8 270 L1522.4 270.6 L1523.6 271.3 L1525.6 270 L1526.4 271.4 L1528 147 L1529.6 271.4 L1530.8 271.3 L1532.5 271.3 L1534.5 271.3 L1535.7 271.4 L1537 265.2 L1538.3 271.4 L1539.5 271.2 L1541.2 271.2 L1542.7 271.4 L1544 267 L1545.3 271.4 L1545.5 270.9 L1547.2 271.1 L1548 271.4 L1548 272Z" fill="#EF843C" fill-opacity="0.125" stroke="none"/><path d="M1430.4 266 L1432.5 270.4 L1433 271.1 L1435 270.4 L1436.5 271.4 L1437.8 271 L1439.4 271.3 L1440.2 271.3 L1441.7 146.6 L1443.4 146.4 L1444.8 271.3 L1444.9 271.2 L1446.6 271.3 L1448.4 270.4 L1450.2 271.3 L1451.6 271.4 L1452.7 268 L1453.8 271.4 L1454.6 270 L1455.9 271.2 L1456.6 271.4 L1457.7 267.2 L1458.8 271.4 L1459 270.8 L1460.4 270.1 L1461.4 271.4 L1462.5 268.2 L1463.6 271.4 L1463.9 271.2 L1465.2 271.1 L1466.9 271.3 L1469 270.7 L1470.1 271.2 L1472.2 271.1 L1473.8 271.2 L1475.3 271.3 L1476.6 270.6 L1477.9 271.1 L1479.2 270.5 L1480.5 271.2 L1481.9 269.9 L1483.4 269.9 L1485.3 271.2 L1486.8 271.2 L1488.6 270.9 L1490.1 271.2 L1491.7 271.4 L1493.4 270.4 L1495.4 269.8 L1496.6 271.2 L1497.9 271.3 L1499.5 271.4 L1500.1 271.4 L1502.1 263.6 L1504.1 271.4 L1504.2 270.7 L1505.4 271.3 L1507.2 271.2 L1508.8 269.9 L1510 271.1 L1511.6 271.2 L1513.3 270.9 L1514.7 269.8 L1516.2 270.7 L1516.7 271.4 L1518.7 262.1 L1520.7 271.4 L1520.8 270 L1522.4 270.6 L1523.6 271.3 L1525.6 270 L1526.4 271.4 L1528 147 L1529.6 271.4 L1530.8 271.3 L1532.5 271.3 L1534.5 271.3 L1535.7 271.4 L1537 265.2 L1538.3 271.4 L1539.5 271.2 L1541.2 271.2 L1542.7 271.4 L1544 267 L1545.3 271.4 L1545.5 270.9 L1547.2 271.1 L1548 271.4" fill="none" stroke="#EF843C" stroke-width="1.05" stroke-linejoin="round"/><path d="M1440.2 271 L1441.7 146.6 L1443.4 146.4 L1444.8 271Z" fill="#EF843C" fill-opacity="0.45"/><rect x="843" y="271" width="279.8" height="2" fill="#67407f"/><rect x="1133.3" y="271" width="283.7" height="2" fill="#67407f"/><rect x="1430" y="271" width="118" height="2" fill="#67407f"/></g>
<g id="c3"><g stroke="#c8c8c8" stroke-opacity="0.25" stroke-width="1" shape-rendering="crispEdges"><line x1="62" y1="458.5" x2="765" y2="458.5"/><line x1="62" y1="496.6" x2="765" y2="496.6"/><line x1="62" y1="534.8" x2="765" y2="534.8"/><line x1="62" y1="572.9" x2="765" y2="572.9"/><line x1="62" y1="611.1" x2="765" y2="611.1"/><line x1="62" y1="649.2" x2="765" y2="649.2"/><line x1="62" y1="688.2" x2="765" y2="688.2"/><line x1="104.5" y1="458" x2="104.5" y2="688.4"/><line x1="222.5" y1="458" x2="222.5" y2="688.4"/><line x1="339.5" y1="458" x2="339.5" y2="688.4"/><line x1="456.5" y1="458" x2="456.5" y2="688.4"/><line x1="573.5" y1="458" x2="573.5" y2="688.4"/><line x1="690.5" y1="458" x2="690.5" y2="688.4"/></g><path d="M61.9 688 L61.9 678.8 L63.6 684.4 L65.1 679.8 L66.9 635.3 L68.7 682.9 L70.4 656.6 L71.2 666.7 L72.7 660.6 L73.7 680.9 L76.3 685.4 L78.1 672.2 L79.3 678.8 L80.3 676.3 L81.8 684.4 L82.8 682.9 L84.7 642.4 L85.9 670.7 L86.6 657.6 L88.4 679.8 L89.1 680.9 L90.4 502.4 L92 680.9 L93 685.4 L94.5 653.5 L96 685.9 L98.5 680.9 L100 679.8 L101.8 674.3 L103.1 685.9 L104.6 685.9 L106.6 673.8 L107.6 685.4 L108.6 679.8 L110.2 685.9 L111.2 681.4 L113.2 686.9 L114.7 675.8 L115.7 676.8 L116.7 684.9 L119.3 685.9 L120.8 678.3 L122.3 686.4 L124.8 676.8 L125.9 680.9 L127.4 672.2 L128.9 672.8 L129.7 669.2 L130.9 682.9 L131.9 680.3 L132.9 686.4 L133.9 681.4 L135.5 686.9 L137.5 675.8 L139 686.9 L140.5 681.4 L141.5 684.9 L142.2 679.8 L144.1 622.1 L145.6 680.9 L146.6 676.8 L148.1 681.9 L150.1 679.8 L151.2 682.9 L151.5 679.8 L153 645.9 L154 670.7 L155.6 680.9 L157.6 684.4 L159.1 680.9 L160.6 677.3 L162.1 684.9 L163.7 685.9 L165.4 677.3 L167.2 684.9 L168.7 685.9 L169.9 682.4 L171.3 685.4 L174.3 685.9 L177.3 685.4 L179.4 686.9 L181.4 682.9 L182.9 663.1 L184.4 667.7 L185.4 684.9 L186.9 686.4 L189 684.9 L190.8 639.9 L192 676.8 L193.3 667.2 L194.5 672.8 L195.3 686.9 L196.4 686.9 L197.8 645.9 L198.8 674.8 L199.8 667.7 L201.1 686.9 L202.6 685.9 L205.2 685.4 L206.5 677.3 L208.2 680.9 L210.2 677.3 L212.8 679.8 L214.3 686.4 L216.8 686.9 L218.3 680.9 L219.6 669.2 L220.9 677.8 L222.4 678.8 L223.7 686.9 L224.9 478.2 L226.4 684.9 L227.4 684.9 L228.9 682.9 L230.5 687.4 L232.5 686.9 L233.9 602.9 L236 682.9 L238.1 687.4 L239.6 686.9 L240.6 674.3 L241.9 687.4 L244.1 686.9 L246.2 680.9 L247 679.3 L248.5 680.9 L249.9 678.8 L251.1 686.9 L252.6 686.9 L253.9 680.9 L255.1 686.9 L257.7 685.4 L259.5 678.8 L260.7 686.9 L262.7 685.9 L264.2 686.9 L265.7 683.9 L266.6 665.2 L268.3 665.7 L269.3 685.4 L270.3 684.9 L271.5 670.2 L272.8 671.7 L273.6 681.9 L274.9 651 L276.4 684.9 L277.4 687.4 L280.4 686.4 L283 684.9 L284.5 680.9 L286 679.3 L287 683.9 L288.7 678.3 L290.5 686.9 L293.6 686.4 L296.6 687.4 L299.1 685.4 L301 683.4 L302.7 686.9 L304.7 685.9 L306.4 676.3 L307.8 675.8 L308.6 685.4 L309.8 679.8 L311 675.3 L312 687.4 L314.8 684.9 L316.7 680.3 L318.4 686.9 L320.9 686.4 L323.9 685.4 L326 684.9 L327.5 629.2 L328.8 629.2 L329.8 678.8 L331.3 678.8 L333.1 682.9 L335.1 685.4 L336.6 686.4 L337.3 668.7 L338.6 659.1 L339.6 671.7 L339.6 688Z" fill="#7EB26D" fill-opacity="0.12" stroke="none"/><path d="M61.9 678.8 L63.6 684.4 L65.1 679.8 L66.9 635.3 L68.7 682.9 L70.4 656.6 L71.2 666.7 L72.7 660.6 L73.7 680.9 L76.3 685.4 L78.1 672.2 L79.3 678.8 L80.3 676.3 L81.8 684.4 L82.8 682.9 L84.7 642.4 L85.9 670.7 L86.6 657.6 L88.4 679.8 L89.1 680.9 L90.4 502.4 L92 680.9 L93 685.4 L94.5 653.5 L96 685.9 L98.5 680.9 L100 679.8 L101.8 674.3 L103.1 685.9 L104.6 685.9 L106.6 673.8 L107.6 685.4 L108.6 679.8 L110.2 685.9 L111.2 681.4 L113.2 686.9 L114.7 675.8 L115.7 676.8 L116.7 684.9 L119.3 685.9 L120.8 678.3 L122.3 686.4 L124.8 676.8 L125.9 680.9 L127.4 672.2 L128.9 672.8 L129.7 669.2 L130.9 682.9 L131.9 680.3 L132.9 686.4 L133.9 681.4 L135.5 686.9 L137.5 675.8 L139 686.9 L140.5 681.4 L141.5 684.9 L142.2 679.8 L144.1 622.1 L145.6 680.9 L146.6 676.8 L148.1 681.9 L150.1 679.8 L151.2 682.9 L151.5 679.8 L153 645.9 L154 670.7 L155.6 680.9 L157.6 684.4 L159.1 680.9 L160.6 677.3 L162.1 684.9 L163.7 685.9 L165.4 677.3 L167.2 684.9 L168.7 685.9 L169.9 682.4 L171.3 685.4 L174.3 685.9 L177.3 685.4 L179.4 686.9 L181.4 682.9 L182.9 663.1 L184.4 667.7 L185.4 684.9 L186.9 686.4 L189 684.9 L190.8 639.9 L192 676.8 L193.3 667.2 L194.5 672.8 L195.3 686.9 L196.4 686.9 L197.8 645.9 L198.8 674.8 L199.8 667.7 L201.1 686.9 L202.6 685.9 L205.2 685.4 L206.5 677.3 L208.2 680.9 L210.2 677.3 L212.8 679.8 L214.3 686.4 L216.8 686.9 L218.3 680.9 L219.6 669.2 L220.9 677.8 L222.4 678.8 L223.7 686.9 L224.9 478.2 L226.4 684.9 L227.4 684.9 L228.9 682.9 L230.5 687.4 L232.5 686.9 L233.9 602.9 L236 682.9 L238.1 687.4 L239.6 686.9 L240.6 674.3 L241.9 687.4 L244.1 686.9 L246.2 680.9 L247 679.3 L248.5 680.9 L249.9 678.8 L251.1 686.9 L252.6 686.9 L253.9 680.9 L255.1 686.9 L257.7 685.4 L259.5 678.8 L260.7 686.9 L262.7 685.9 L264.2 686.9 L265.7 683.9 L266.6 665.2 L268.3 665.7 L269.3 685.4 L270.3 684.9 L271.5 670.2 L272.8 671.7 L273.6 681.9 L274.9 651 L276.4 684.9 L277.4 687.4 L280.4 686.4 L283 684.9 L284.5 680.9 L286 679.3 L287 683.9 L288.7 678.3 L290.5 686.9 L293.6 686.4 L296.6 687.4 L299.1 685.4 L301 683.4 L302.7 686.9 L304.7 685.9 L306.4 676.3 L307.8 675.8 L308.6 685.4 L309.8 679.8 L311 675.3 L312 687.4 L314.8 684.9 L316.7 680.3 L318.4 686.9 L320.9 686.4 L323.9 685.4 L326 684.9 L327.5 629.2 L328.8 629.2 L329.8 678.8 L331.3 678.8 L333.1 682.9 L335.1 685.4 L336.6 686.4 L337.3 668.7 L338.6 659.1 L339.6 671.7" fill="none" stroke="#7EB26D" stroke-width="1.25" stroke-linejoin="round"/><path d="M349.3 688 L349.3 637.5 L350.3 633.4 L351.6 681.4 L353.3 663.6 L355.1 670.4 L355.8 675.9 L356.8 675.9 L357.8 685.5 L360.5 686.8 L363.3 686.2 L364.7 674.5 L366 686.8 L368.8 686.8 L371.8 682.7 L373.6 686.8 L375.9 677.3 L377.7 686.8 L379 681.4 L380.4 589.6 L381.8 684.1 L383.8 662.2 L385.9 681.4 L387.7 674.5 L389.3 681.4 L391 678.4 L392.7 685.5 L394.8 686.8 L398.9 685.2 L403 684.8 L405.8 686.2 L407.1 686.8 L408.1 676.6 L411 675.9 L412.6 682.7 L415.3 685.5 L417.4 684.8 L419.5 686.8 L421.8 681.4 L423.6 687.5 L425.6 685.5 L427.7 666.3 L429.7 686.8 L431.8 684.1 L433.8 681.4 L435.2 685.5 L436.3 662.9 L437.8 684.9 L440.1 686.9 L442.9 682.4 L444.6 686.9 L447.3 684.4 L449.2 686.9 L452.2 685.4 L455.2 685.9 L456.8 680.3 L458.8 678.3 L460.1 685.4 L461.3 684.9 L463.8 687.4 L465.9 684.9 L467.2 680.3 L468.4 685.9 L471.9 687.4 L474.5 681.4 L476 686.4 L478.5 684.4 L481.1 685.4 L482.6 685.9 L484.6 677.3 L486.6 684.9 L488.6 682.4 L490 679.3 L491.7 685.9 L493.5 679.8 L494.7 686.9 L496.7 681.4 L498.3 686.9 L501.3 687.4 L503.6 679.8 L504.8 687.4 L507.1 682.4 L508.9 687.4 L510.9 664.1 L512.4 679.8 L515 680.3 L516.5 686.9 L518.5 683.4 L520.5 687.4 L523.1 673.3 L524.6 686.9 L526.1 681.4 L527.9 668.2 L529.6 686.9 L532.2 685.4 L533.7 686.9 L534.6 678.8 L536.1 663.6 L537.3 663.6 L538.1 682.4 L539.6 687.4 L542.7 685.4 L545.7 685.4 L548.7 686.9 L551.8 687.4 L553.5 679.8 L555.1 686.9 L556.5 683.4 L557.8 685.4 L559.6 683.4 L560.6 673.3 L562.2 673.3 L562.6 685.9 L564.9 684.4 L566.9 681.4 L568.5 682.9 L570 670.2 L571.5 673.8 L573 686.9 L575 686.9 L576.8 683.4 L579.1 686.9 L580.1 684.9 L582.6 682.9 L585.2 685.4 L586.7 685.4 L588.5 677.3 L590.2 685.9 L592.2 687.9 L596.8 687.4 L599.3 682.4 L601.9 681.4 L603.4 686.4 L605.4 683.4 L607.4 685.4 L608.9 684.4 L611.5 684.4 L612.2 687.9 L616 687.4 L620.1 686.9 L621.9 682.4 L623.6 685.4 L625.1 687.9 L625 687.4 L629.6 687.4 L631.6 681.4 L632.6 685.4 L632.6 688Z" fill="#7EB26D" fill-opacity="0.12" stroke="none"/><path d="M349.3 637.5 L350.3 633.4 L351.6 681.4 L353.3 663.6 L355.1 670.4 L355.8 675.9 L356.8 675.9 L357.8 685.5 L360.5 686.8 L363.3 686.2 L364.7 674.5 L366 686.8 L368.8 686.8 L371.8 682.7 L373.6 686.8 L375.9 677.3 L377.7 686.8 L379 681.4 L380.4 589.6 L381.8 684.1 L383.8 662.2 L385.9 681.4 L387.7 674.5 L389.3 681.4 L391 678.4 L392.7 685.5 L394.8 686.8 L398.9 685.2 L403 684.8 L405.8 686.2 L407.1 686.8 L408.1 676.6 L411 675.9 L412.6 682.7 L415.3 685.5 L417.4 684.8 L419.5 686.8 L421.8 681.4 L423.6 687.5 L425.6 685.5 L427.7 666.3 L429.7 686.8 L431.8 684.1 L433.8 681.4 L435.2 685.5 L436.3 662.9 L437.8 684.9 L440.1 686.9 L442.9 682.4 L444.6 686.9 L447.3 684.4 L449.2 686.9 L452.2 685.4 L455.2 685.9 L456.8 680.3 L458.8 678.3 L460.1 685.4 L461.3 684.9 L463.8 687.4 L465.9 684.9 L467.2 680.3 L468.4 685.9 L471.9 687.4 L474.5 681.4 L476 686.4 L478.5 684.4 L481.1 685.4 L482.6 685.9 L484.6 677.3 L486.6 684.9 L488.6 682.4 L490 679.3 L491.7 685.9 L493.5 679.8 L494.7 686.9 L496.7 681.4 L498.3 686.9 L501.3 687.4 L503.6 679.8 L504.8 687.4 L507.1 682.4 L508.9 687.4 L510.9 664.1 L512.4 679.8 L515 680.3 L516.5 686.9 L518.5 683.4 L520.5 687.4 L523.1 673.3 L524.6 686.9 L526.1 681.4 L527.9 668.2 L529.6 686.9 L532.2 685.4 L533.7 686.9 L534.6 678.8 L536.1 663.6 L537.3 663.6 L538.1 682.4 L539.6 687.4 L542.7 685.4 L545.7 685.4 L548.7 686.9 L551.8 687.4 L553.5 679.8 L555.1 686.9 L556.5 683.4 L557.8 685.4 L559.6 683.4 L560.6 673.3 L562.2 673.3 L562.6 685.9 L564.9 684.4 L566.9 681.4 L568.5 682.9 L570 670.2 L571.5 673.8 L573 686.9 L575 686.9 L576.8 683.4 L579.1 686.9 L580.1 684.9 L582.6 682.9 L585.2 685.4 L586.7 685.4 L588.5 677.3 L590.2 685.9 L592.2 687.9 L596.8 687.4 L599.3 682.4 L601.9 681.4 L603.4 686.4 L605.4 683.4 L607.4 685.4 L608.9 684.4 L611.5 684.4 L612.2 687.9 L616 687.4 L620.1 686.9 L621.9 682.4 L623.6 685.4 L625.1 687.9 L625 687.4 L629.6 687.4 L631.6 681.4 L632.6 685.4" fill="none" stroke="#7EB26D" stroke-width="1.25" stroke-linejoin="round"/><path d="M645.2 688 L645.2 669.2 L646.5 665.2 L647.5 670.7 L648.1 683.9 L649.3 687.4 L655.4 687.9 L657.4 685.4 L659.9 684.9 L661.9 681.4 L663.5 685.4 L665.5 684.4 L667.5 681.9 L669.5 685.9 L671.8 687.9 L673.1 679.3 L674.1 687.4 L675.6 677.8 L677.6 677.3 L679.7 686.4 L682.7 687.9 L685.2 686.9 L687.2 684.4 L689.8 680.9 L691.3 687.9 L692.3 638.8 L694 639.4 L694.8 681.9 L695.9 673.3 L697.4 685.4 L698.9 684.4 L700.4 686.9 L701.5 686.4 L702.5 675.3 L705.6 675.8 L706.9 684.9 L708.1 685.9 L709.4 671.2 L710.6 687.4 L712.1 683.4 L714.2 680.9 L715.4 677.3 L716.7 683.9 L718 679.8 L720.2 682.9 L721.3 685.9 L723.8 687.4 L725.1 685.4 L726.1 649 L727.3 686.9 L729.4 686.9 L731.4 685.9 L732.4 676.8 L734.4 673.8 L735.9 687.4 L738 676.3 L739.5 684.9 L741.5 685.9 L742.5 686.9 L744 682.9 L745.2 669.7 L746.6 678.8 L749.1 680.9 L750.3 677.3 L751.8 682.9 L753.1 687.4 L755.2 680.9 L756.7 656.1 L757.7 686.9 L759.7 686.9 L761.7 682.9 L763.3 679.8 L765 685.4 L765 688Z" fill="#7EB26D" fill-opacity="0.12" stroke="none"/><path d="M645.2 669.2 L646.5 665.2 L647.5 670.7 L648.1 683.9 L649.3 687.4 L655.4 687.9 L657.4 685.4 L659.9 684.9 L661.9 681.4 L663.5 685.4 L665.5 684.4 L667.5 681.9 L669.5 685.9 L671.8 687.9 L673.1 679.3 L674.1 687.4 L675.6 677.8 L677.6 677.3 L679.7 686.4 L682.7 687.9 L685.2 686.9 L687.2 684.4 L689.8 680.9 L691.3 687.9 L692.3 638.8 L694 639.4 L694.8 681.9 L695.9 673.3 L697.4 685.4 L698.9 684.4 L700.4 686.9 L701.5 686.4 L702.5 675.3 L705.6 675.8 L706.9 684.9 L708.1 685.9 L709.4 671.2 L710.6 687.4 L712.1 683.4 L714.2 680.9 L715.4 677.3 L716.7 683.9 L718 679.8 L720.2 682.9 L721.3 685.9 L723.8 687.4 L725.1 685.4 L726.1 649 L727.3 686.9 L729.4 686.9 L731.4 685.9 L732.4 676.8 L734.4 673.8 L735.9 687.4 L738 676.3 L739.5 684.9 L741.5 685.9 L742.5 686.9 L744 682.9 L745.2 669.7 L746.6 678.8 L749.1 680.9 L750.3 677.3 L751.8 682.9 L753.1 687.4 L755.2 680.9 L756.7 656.1 L757.7 686.9 L759.7 686.9 L761.7 682.9 L763.3 679.8 L765 685.4" fill="none" stroke="#7EB26D" stroke-width="1.25" stroke-linejoin="round"/></g>
</svg>

<!-- chart 1 labels -->
<div class="yl" style="left:5px;top:108.9px">500 K</div>
<div class="yl" style="left:5px;top:139.9px">400 K</div>
<div class="yl" style="left:5px;top:170.9px">300 K</div>
<div class="yl" style="left:5px;top:201.9px">200 K</div>
<div class="yl" style="left:5px;top:232.9px">100 K</div>
<div class="yl" style="left:5px;top:265.1px">0</div>
<div class="xl" style="left:104.5px;top:278px">17:00</div>
<div class="xl" style="left:222.5px;top:278px">18:00</div>
<div class="xl" style="left:339.5px;top:278px">19:00</div>
<div class="xl" style="left:457.5px;top:278px">20:00</div>
<div class="xl" style="left:574.5px;top:278px">21:00</div>
<div class="xl" style="left:692.5px;top:278px">22:00</div>

<!-- chart 2 labels -->
<div class="yl" style="left:788px;top:108.9px">400 K</div>
<div class="yl" style="left:788px;top:147.8px">300 K</div>
<div class="yl" style="left:788px;top:186.7px">200 K</div>
<div class="yl" style="left:788px;top:225.5px">100 K</div>
<div class="yl" style="left:788px;top:265.1px">0</div>
<div class="xl" style="left:888px;top:278px">17:00</div>
<div class="xl" style="left:1006px;top:278px">18:00</div>
<div class="xl" style="left:1123px;top:278px">19:00</div>
<div class="xl" style="left:1241px;top:278px">20:00</div>
<div class="xl" style="left:1358px;top:278px">21:00</div>
<div class="xl" style="left:1476px;top:278px">22:00</div>

<!-- chart 3 labels -->
<div class="yl" style="letter-spacing:-0.15px;left:6.6px;top:450.9px">30 Mil</div>
<div class="yl" style="letter-spacing:-0.15px;left:6.6px;top:489px">25 Mil</div>
<div class="yl" style="letter-spacing:-0.15px;left:6.6px;top:527.2px">20 Mil</div>
<div class="yl" style="letter-spacing:-0.15px;left:6.6px;top:565.3px">15 Mil</div>
<div class="yl" style="letter-spacing:-0.15px;left:6.6px;top:603.5px">10 Mil</div>
<div class="yl" style="letter-spacing:-0.15px;left:6.6px;top:641.6px">5 Mil</div>
<div class="yl" style="letter-spacing:-0.15px;left:6.6px;top:681.8px">0</div>
<div class="xl" style="left:104.5px;top:694px">17:00</div>
<div class="xl" style="left:222.5px;top:694px">18:00</div>
<div class="xl" style="left:339.5px;top:694px">19:00</div>
<div class="xl" style="left:456.5px;top:694px">20:00</div>
<div class="xl" style="left:573.5px;top:694px">21:00</div>
<div class="xl" style="left:690.5px;top:694px">22:00</div>

<!-- legends -->
<div class="legend" style="left:37px;top:300px;width:740px;height:95px">
<div class="lg" style="top:4px"><i style="background:#7EB26D"></i><span>{device="ap1", instance="localhost:9100", job="node", origin_prometheus="jita-local-prom"}</span></div>
<div class="lg" style="top:25px"><i style="background:#EAB839"></i><span>{device="awdl0", instance="localhost:9100", job="node", origin_prometheus="jita-local-prom"}</span></div>
<div class="lg" style="top:46px"><i style="background:#6ED0E0"></i><span>{device="bridge0", instance="localhost:9100", job="node", origin_prometheus="jita-local-prom"}</span></div>
<div class="lg" style="top:67px"><i style="background:#EF843C"></i><span>{device="en0", instance="localhost:9100", job="node", origin_prometheus="jita-local-prom"}</span></div>
<div class="lg" style="top:88px"><i style="background:#E24D42"></i><span>{device="en1", instance="localhost:9100", job="node", origin_prometheus="jita-local-prom"}</span></div>
</div>
<div class="legend" style="left:820px;top:300px;width:740px;height:95px">
<div class="lg" style="top:4px"><i style="background:#7EB26D"></i><span>{device="ap1", instance="localhost:9100", job="node", origin_prometheus="jita-local-prom"}</span></div>
<div class="lg" style="top:25px"><i style="background:#EAB839"></i><span>{device="awdl0", instance="localhost:9100", job="node", origin_prometheus="jita-local-prom"}</span></div>
<div class="lg" style="top:46px"><i style="background:#6ED0E0"></i><span>{device="bridge0", instance="localhost:9100", job="node", origin_prometheus="jita-local-prom"}</span></div>
<div class="lg" style="top:67px"><i style="background:#EF843C"></i><span>{device="en0", instance="localhost:9100", job="node", origin_prometheus="jita-local-prom"}</span></div>
<div class="lg" style="top:88px"><i style="background:#E24D42"></i><span>{device="en1", instance="localhost:9100", job="node", origin_prometheus="jita-local-prom"}</span></div>
</div>
<div class="legend" style="left:37px;top:716px;width:740px;height:24px">
<div class="lg" style="top:4px"><i style="background:#7EB26D"></i><span>{device="disk0", instance="localhost:9100", job="node", origin_prometheus="jita-local-prom"}</span></div>
</div>

</body>
</html>
